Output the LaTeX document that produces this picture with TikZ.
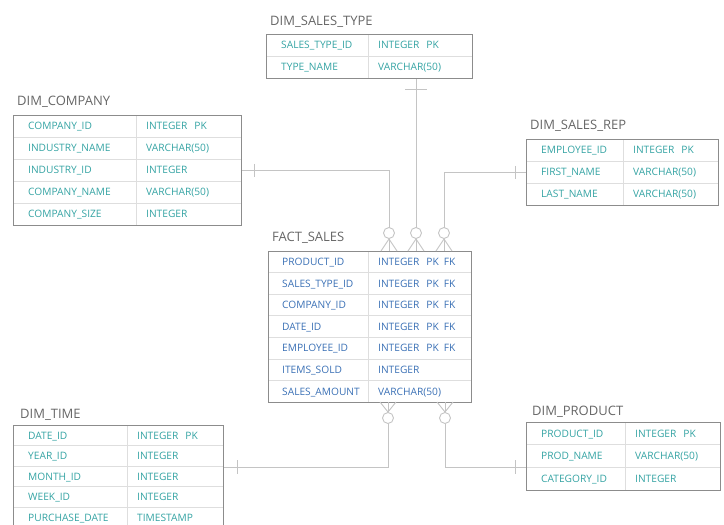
\documentclass[tikz,border=0pt]{standalone}
\usepackage{fontspec}
\setmainfont{Open Sans}
\usetikzlibrary{calc}
\definecolor{dimtxt}{HTML}{34A3A3}
\definecolor{facttxt}{HTML}{3A70B5}
\definecolor{ttl}{HTML}{666666}
\definecolor{frame}{HTML}{8C8C8C}
\definecolor{inner}{HTML}{DEDEDE}
\definecolor{connc}{HTML}{C4C4C4}
\tikzset{
  tbox/.style={draw=frame, line width=0.9pt, inner sep=0pt, anchor=north west},
  ttitle/.style={text=ttl, font=\fontsize{13}{15}\selectfont, anchor=base west, inner sep=0pt},
  cell/.style={font=\fontsize{10.2}{12}\selectfont, anchor=base west, inner sep=0pt},
  rowrule/.style={draw=inner, line width=0.7pt},
  connline/.style={draw=connc, line width=0.9pt},
}
% settings: \rh row height, \dv divider offset, \tc text colour, \tx text offset
\newcommand{\ertable}[6]{% id, left, top, width, nrows, rows
  \pgfmathsetmacro{\tabh}{#5*\rh}
  \pgfmathtruncatemacro{\nm}{#5-1}
  \foreach \k in {1,...,\nm}{\draw[rowrule] (#2,#3+\k*\rh) -- (#2+#4,#3+\k*\rh);}
  \draw[rowrule] (#2+\dv,#3) -- (#2+\dv,#3+\tabh);
  \node[tbox, minimum width=#4pt, minimum height=\tabh pt] (#1) at (#2,#3) {};
  \foreach \a/\b [count=\i] in {#6}{%
    \node[cell, text=\tc] (#1-a\i) at (#2+\tx,#3+\i*\rh-0.5*\rh+3.7) {\a};
    \node[cell, text=\tc] (#1-b\i) at (#2+\dv+10,#3+\i*\rh-0.5*\rh+3.7) {\b};
  }
}
\newcommand{\pkfk}{INTEGER\hspace{7pt}PK\hspace{5pt}FK}
\newcommand{\pk}{INTEGER\hspace{7pt}PK}
\begin{document}
\begin{tikzpicture}[x=1pt,y=-1pt]
\useasboundingbox (0,0) rectangle (724,525);
\clip (0,0) rectangle (724,525);
% tables
\def\tc{dimtxt}\def\tx{15}
\def\rh{22}\def\dv{102}
\ertable{stype}{266}{34}{206}{2}{SALES\_TYPE\_ID/\pk, TYPE\_NAME/VARCHAR(50)}
\def\rh{22}\def\dv{123}
\ertable{company}{13}{115}{228}{5}{COMPANY\_ID/\pk, INDUSTRY\_NAME/VARCHAR(50), INDUSTRY\_ID/INTEGER, COMPANY\_NAME/VARCHAR(50), COMPANY\_SIZE/INTEGER}
\def\rh{22}\def\dv{97}
\ertable{srep}{526}{139}{192}{3}{EMPLOYEE\_ID/\pk, FIRST\_NAME/VARCHAR(50), LAST\_NAME/VARCHAR(50)}
\def\rh{20.6}\def\dv{114}
\ertable{time}{13}{425}{210}{5}{DATE\_ID/\pk, YEAR\_ID/INTEGER, MONTH\_ID/INTEGER, WEEK\_ID/INTEGER, PURCHASE\_DATE/TIMESTAMP}
\def\rh{22.7}\def\dv{99}
\ertable{product}{526}{422}{194}{3}{PRODUCT\_ID/\pk, PROD\_NAME/VARCHAR(50), CATEGORY\_ID/INTEGER}
\def\tc{facttxt}\def\tx{14}
\def\rh{21.6}\def\dv{100}
\ertable{fact}{268}{251}{203}{7}{PRODUCT\_ID/\pkfk, SALES\_TYPE\_ID/\pkfk, COMPANY\_ID/\pkfk, DATE\_ID/\pkfk, EMPLOYEE\_ID/\pkfk, ITEMS\_SOLD/INTEGER, SALES\_AMOUNT/VARCHAR(50)}
% titles
\node[ttitle] (t-stype) at (270,25) {DIM\_SALES\_TYPE};
\node[ttitle] (t-company) at (17,105.5) {DIM\_COMPANY};
\node[ttitle] (t-srep) at (530,129) {DIM\_SALES\_REP};
\node[ttitle] (t-fact) at (272,241) {FACT\_SALES};
\node[ttitle] (t-time) at (20,418) {DIM\_TIME};
\node[ttitle] (t-product) at (532,415) {DIM\_PRODUCT};
% connection points on the fact table
\coordinate (fP1) at (389,251);
\coordinate (fP2) at (416,251);
\coordinate (fP3) at (444,251);
\coordinate (fB1) at (388,402);
\coordinate (fB2) at (445,402);
\coordinate (lvl) at (0,467);
% crow's feet (many, optional)
\foreach \p in {fP1,fP2,fP3}{
  \draw[connline] ($(\p)+(0,-18)$) circle[radius=5.5];
  \draw[connline] ($(\p)+(-8,0)$) -- ($(\p)+(0,-12)$) -- ($(\p)+(8,0)$);
  \draw[connline] ($(\p)+(0,-12)$) -- (\p);
}
\foreach \p in {fB1,fB2}{
  \draw[connline] ($(\p)+(0,16)$) circle[radius=5.5];
  \draw[connline] ($(\p)+(-8,0)$) -- ($(\p)+(0,10)$) -- ($(\p)+(8,0)$);
  \draw[connline] ($(\p)+(0,10)$) -- (\p);
}
% connectors
\draw[connline] (fP2 |- stype.south) -- ($(fP2)+(0,-23.5)$);
\draw[connline] ($(fP2 |- stype.south)+(-11,11)$) -- ($(fP2 |- stype.south)+(11,11)$);
\draw[connline] (company.east) -- (fP1 |- company.east) -- ($(fP1)+(0,-23.5)$);
\draw[connline] ($(company.east)+(13,-6.5)$) -- ($(company.east)+(13,6.5)$);
\draw[connline] (srep.west) -- (fP3 |- srep.west) -- ($(fP3)+(0,-23.5)$);
\draw[connline] ($(srep.west)+(-11,-6.5)$) -- ($(srep.west)+(-11,6.5)$);
\draw[connline] ($(fB1)+(0,21.5)$) -- (fB1 |- lvl) -- (time.east |- lvl);
\draw[connline] ($(time.east |- lvl)+(14,-7)$) -- ($(time.east |- lvl)+(14,7)$);
\draw[connline] ($(fB2)+(0,21.5)$) -- (fB2 |- lvl) -- (product.west |- lvl);
\draw[connline] ($(product.west |- lvl)+(-11,-7)$) -- ($(product.west |- lvl)+(-11,7)$);
\end{tikzpicture}
\end{document}
